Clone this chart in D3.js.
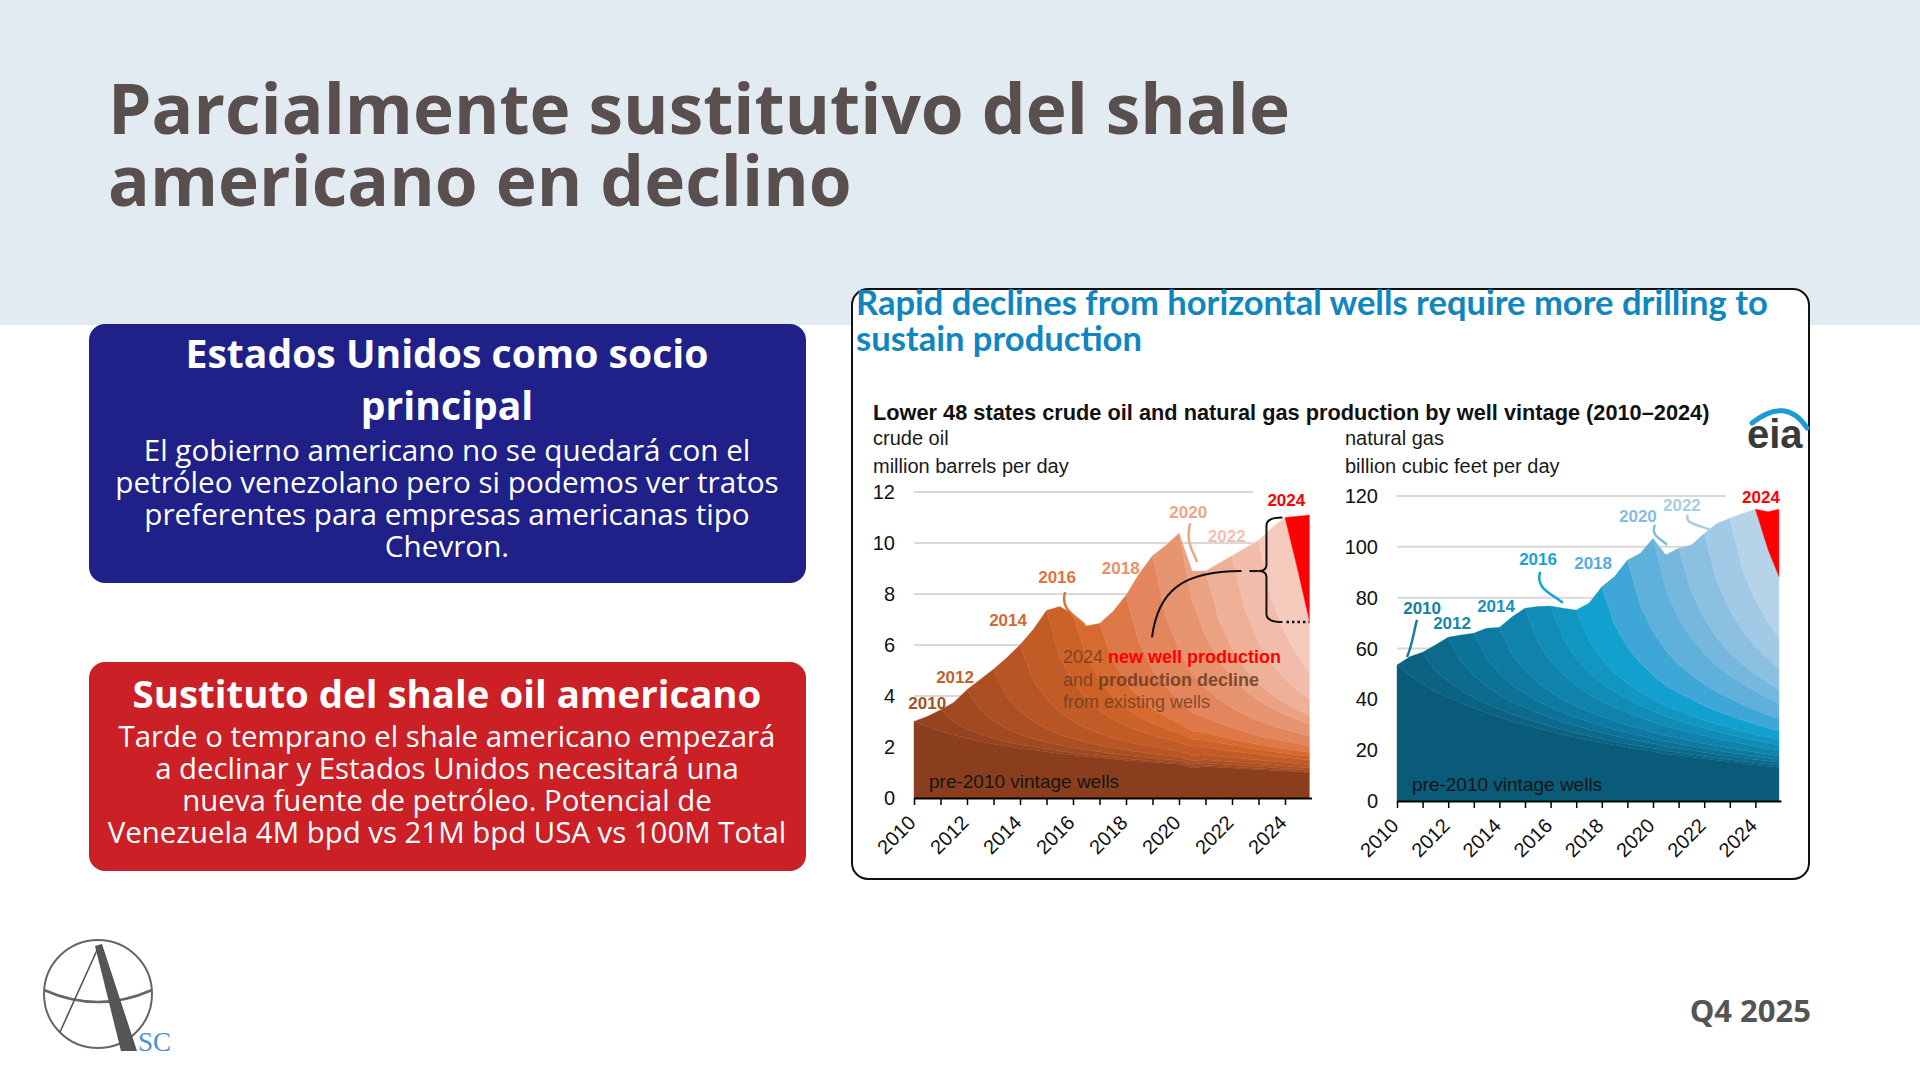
<!DOCTYPE html>
<html>
<head>
<meta charset="utf-8">
<script src="https://cdn.jsdelivr.net/npm/d3@7"></script>
<style>
    body { margin: 0; background: #ffffff; }
    svg { display: block; }
</style>
</head>
<body>
<div id="slide"></div>
<script>
/*
    Lámina: shale americano por antigüedad de pozo (EIA)
 */

// ---- textos ----
var page_title = ['Parcialmente sustitutivo del shale', 'americano en declino'];
var usa_title = ['Estados Unidos como socio', 'principal'];
var usa_text = [
    'El gobierno americano no se quedará con el',
    'petróleo venezolano pero si podemos ver tratos',
    'preferentes para empresas americanas tipo',
    'Chevron.'
];
var shale_title = ['Sustituto del shale oil americano'];
var shale_text = [
    'Tarde o temprano el shale americano empezará',
    'a declinar y Estados Unidos necesitará una',
    'nueva fuente de petróleo. Potencial de',
    'Venezuela 4M bpd vs 21M bpd USA vs 100M Total'
];
var chart_headline = ['Rapid declines from horizontal wells require more drilling to', 'sustain production'];
var chart_subtitle = 'Lower 48 states crude oil and natural gas production by well vintage (2010\u20132024)';

// ---- datos ----
var vintages = ['pre-2010', '2010', '2011', '2012', '2013', '2014', '2015', '2016',
    '2017', '2018', '2019', '2020', '2021', '2022', '2023', '2024'];

var dates = [2010, 2010.5, 2011, 2011.5, 2012, 2012.5, 2013, 2013.5, 2014, 2014.5,
    2015, 2015.5, 2016, 2016.5, 2017, 2017.5, 2018, 2018.5, 2019, 2019.5,
    2020, 2020.5, 2021, 2021.5, 2022, 2022.5, 2023, 2023.5, 2024, 2024.5, 2024.92];

var year_ticks = [2010, 2011, 2012, 2013, 2014, 2015, 2016, 2017, 2018, 2019, 2020, 2021, 2022, 2023, 2024];
var year_labels = [2010, 2012, 2014, 2016, 2018, 2020, 2022, 2024];
var oil_y_ticks = [0, 2, 4, 6, 8, 10, 12];
var gas_y_ticks = [0, 20, 40, 60, 80, 100, 120];

// million barrels per day, each vintage starts in January of its year
var oil_by_vintage = [
    [3.00, 2.80, 2.62, 2.47, 2.34, 2.22, 2.12, 2.03, 1.95, 1.88, 1.81, 1.75, 1.69, 1.63, 1.58, 1.53, 1.48, 1.44, 1.40, 1.36, 1.32, 1.18, 1.24, 1.21, 1.18, 1.15, 1.12, 1.09, 1.06, 1.03, 1.00],
    [0, 0.40, 0.83, 0.51, 0.37, 0.28, 0.22, 0.17, 0.145, 0.125, 0.11, 0.095, 0.085, 0.078, 0.071, 0.066, 0.061, 0.057, 0.054, 0.051, 0.048, 0.046, 0.043, 0.041, 0.04, 0.038, 0.037, 0.035, 0.033, 0.032, 0.03],
    [0, 0.77, 1.54, 0.95, 0.69, 0.52, 0.40, 0.32, 0.27, 0.23, 0.20, 0.18, 0.16, 0.145, 0.13, 0.12, 0.115, 0.105, 0.10, 0.095, 0.09, 0.085, 0.08, 0.077, 0.074, 0.07, 0.068, 0.065, 0.062],
    [0, 1.20, 2.02, 1.25, 0.91, 0.69, 0.53, 0.42, 0.35, 0.30, 0.26, 0.23, 0.21, 0.19, 0.17, 0.16, 0.15, 0.14, 0.13, 0.12, 0.117, 0.11, 0.105, 0.10, 0.097, 0.093, 0.089],
    [0, 1.53, 2.60, 1.61, 1.17, 0.88, 0.68, 0.55, 0.455, 0.39, 0.34, 0.30, 0.27, 0.245, 0.22, 0.21, 0.19, 0.18, 0.17, 0.16, 0.15, 0.143, 0.135, 0.13, 0.125],
    [0, 1.98, 3.46, 2.15, 1.56, 1.18, 0.90, 0.73, 0.61, 0.52, 0.45, 0.40, 0.36, 0.325, 0.30, 0.28, 0.26, 0.24, 0.225, 0.21, 0.20, 0.19, 0.18],
    [0, 1.98, 2.64, 1.64, 1.19, 0.90, 0.69, 0.55, 0.46, 0.40, 0.34, 0.30, 0.27, 0.25, 0.23, 0.21, 0.195, 0.18, 0.17, 0.16, 0.153],
    [0, 1.19, 2.23, 1.38, 1.00, 0.76, 0.58, 0.47, 0.39, 0.33, 0.29, 0.26, 0.23, 0.21, 0.19, 0.18, 0.165, 0.155, 0.145],
    [0, 1.93, 3.43, 2.13, 1.54, 1.17, 0.89, 0.72, 0.60, 0.51, 0.45, 0.39, 0.35, 0.32, 0.295, 0.275, 0.255],
    [0, 2.73, 4.46, 2.77, 2.00, 1.52, 1.16, 0.94, 0.78, 0.67, 0.58, 0.51, 0.46, 0.42, 0.38],
    [0, 2.77, 4.56, 2.83, 2.05, 1.55, 1.19, 0.96, 0.80, 0.68, 0.59, 0.52, 0.47],
    [0, 1.20, 2.54, 1.57, 1.14, 0.86, 0.66, 0.53, 0.44, 0.38, 0.33],
    [0, 2.20, 3.63, 2.25, 1.63, 1.23, 0.94, 0.76, 0.64],
    [0, 2.48, 3.98, 2.47, 1.79, 1.35, 1.04],
    [0, 2.84, 4.56, 3.30, 2.05],
    [0, 2.19, 4.15]
];

// billion cubic feet per day
var gas_by_vintage = [
    [53.5, 49.5, 46.0, 43.2, 40.8, 38.6, 36.6, 34.8, 33.0, 31.4, 30.0, 28.6, 27.3, 26.1, 25.0, 23.9, 22.9, 22.0, 21.1, 20.3, 19.5, 18.5, 18.0, 17.3, 16.6, 16.0, 15.4, 14.8, 14.2, 13.7, 13.2],
    [0, 7.3, 12.5, 8.25, 6.25, 5.0, 4.1, 3.5, 3.1, 2.75, 2.5, 2.25, 2.06, 1.9, 1.75, 1.63, 1.53, 1.44, 1.35, 1.28, 1.21, 1.15, 1.09, 1.04, 0.99, 0.94, 0.9, 0.86, 0.83, 0.79, 0.75],
    [0, 9.95, 17.35, 11.45, 8.7, 6.95, 5.7, 4.85, 4.25, 3.8, 3.45, 3.1, 2.85, 2.65, 2.45, 2.25, 2.1, 2.0, 1.87, 1.77, 1.68, 1.6, 1.5, 1.44, 1.37, 1.3, 1.25, 1.2, 1.15],
    [0, 10.25, 16.6, 10.95, 8.3, 6.65, 5.5, 4.65, 4.05, 3.65, 3.3, 3.0, 2.75, 2.5, 2.3, 2.15, 2.0, 1.9, 1.8, 1.7, 1.6, 1.53, 1.45, 1.38, 1.31, 1.25, 1.2],
    [0, 11.8, 18.2, 12.0, 9.1, 7.3, 6.0, 5.1, 4.45, 4.0, 3.65, 3.3, 3.0, 2.75, 2.55, 2.35, 2.2, 2.1, 1.97, 1.85, 1.77, 1.67, 1.58, 1.5, 1.44],
    [0, 14.85, 24.45, 16.1, 12.2, 9.8, 8.05, 6.85, 6.0, 5.4, 4.9, 4.4, 4.05, 3.7, 3.4, 3.2, 3.0, 2.8, 2.65, 2.5, 2.37, 2.25, 2.13],
    [0, 13.8, 21.64, 14.3, 10.8, 8.65, 7.15, 6.05, 5.3, 4.75, 4.35, 3.9, 3.55, 3.3, 3.05, 2.8, 2.65, 2.5, 2.35, 2.2, 2.1],
    [0, 11.85, 18.9, 12.5, 9.45, 7.55, 6.25, 5.3, 4.65, 4.15, 3.8, 3.4, 3.1, 2.9, 2.65, 2.45, 2.3, 2.17, 2.05],
    [0, 14.6, 28.4, 18.75, 14.2, 11.35, 9.35, 7.95, 6.95, 6.25, 5.7, 5.1, 4.7, 4.3, 4.0, 3.7, 3.45],
    [0, 19.05, 34.3, 22.65, 17.15, 13.7, 11.3, 9.6, 8.4, 7.55, 6.85, 6.2, 5.65, 5.2, 4.8],
    [0, 20.47, 36.6, 24.15, 18.3, 14.65, 12.1, 10.25, 8.95, 8.05, 7.3, 6.6, 6.05],
    [0, 13.58, 27.33, 18.05, 13.65, 10.95, 9.0, 7.65, 6.7, 6.0, 5.45],
    [0, 18.5, 33.55, 22.15, 16.8, 13.4, 11.05, 9.4, 8.2],
    [0, 22.94, 36.06, 23.8, 18.05, 14.4, 11.9],
    [0, 22.29, 35.86, 28.44, 24.43],
    [0, 15.0, 26.5]
];

// ---- estilos ----
var oil_colors = ['#8b3e1e', '#96441f', '#a14a21', '#ac5023', '#b75624', '#c25c26', '#cd6229', '#d76a2f',
    '#de7848', '#e3865d', '#e79470', '#eba283', '#eeb097', '#f1bdaa', '#f4cabd', '#ff0000'];
var gas_colors = ['#0a5a7a', '#0b6283', '#0c6a8d', '#0d7297', '#0e7aa1', '#0f83ab', '#108cb6', '#1196c2',
    '#12a0cf', '#3ea7d8', '#5fb0db', '#75b7dd', '#8bc0e1', '#a0cae5', '#b5d4ea', '#ff0000'];

var slide_font = '"Open Sans", sans-serif';
var chart_font = '"Liberation Sans", Arial, sans-serif';

var oil_labels = [
    {text: '2010', year: 2010.5, value: 3.5, color: '#a0522a'},
    {text: '2012', year: 2011.55, value: 4.5, color: '#c0622e'},
    {text: '2014', year: 2013.55, value: 6.75, color: '#d06a34'},
    {text: '2016', year: 2015.4, value: 8.45, color: '#dd7438'},
    {text: '2018', year: 2017.8, value: 8.8, color: '#e8906c'},
    {text: '2020', year: 2020.35, value: 11.0, color: '#efa48c'},
    {text: '2022', year: 2021.8, value: 10.05, color: '#f3bfae'},
    {text: '2024', year: 2024.05, value: 11.45, color: '#ff0000'}
];
var oil_leaders = [
    {from: [2015.70, 8.08], to: [2016.45, 6.78], color: '#dd7438'},
    {from: [2020.42, 10.78], to: [2020.68, 9.25], color: '#efa48c'}
];
var gas_labels = [
    {text: '2010', year: 2010.98, value: 73.6, color: '#1a7d9f'},
    {text: '2012', year: 2012.15, value: 67.7, color: '#1b85ac'},
    {text: '2014', year: 2013.87, value: 74.4, color: '#1a90bf'},
    {text: '2016', year: 2015.51, value: 92.9, color: '#17a1d8'},
    {text: '2018', year: 2017.66, value: 91.3, color: '#55acdc'},
    {text: '2020', year: 2019.41, value: 109.8, color: '#85bce2'},
    {text: '2022', year: 2021.13, value: 114.2, color: '#a9cbe6'},
    {text: '2024', year: 2024.22, value: 117.3, color: '#ff0000'}
];
var gas_leaders = [
    {from: [2010.78, 71.3], to: [2010.39, 56.7], color: '#1a7d9f'},
    {from: [2015.59, 90.2], to: [2016.48, 78.0], color: '#17a1d8'},
    {from: [2020.08, 108.7], to: [2020.55, 100.8], color: '#85bce2'},
    {from: [2021.37, 112.6], to: [2022.23, 106.7], color: '#a9cbe6'}
];

var svg = d3.select('#slide')
    .append('svg')
    .attr('width', 1920)
    .attr('height', 1080);

// scale font size so that line `ref` is `width` px wide
function fit_lines(sel, ref, width) {
    var node = sel.nodes()[ref];
    var w = node.getComputedTextLength();
    var fs = parseFloat(d3.select(node).style('font-size'));
    sel.style('font-size', (fs * width / w) + 'px');
}

// ---- cabecera ----
svg.append('rect')
    .attr('x', 0).attr('y', 0)
    .attr('width', 1920).attr('height', 325)
    .style('fill', '#e2eaf2');

var title_text = svg.append('g').selectAll('text')
    .data(page_title)
    .enter()
    .append('text')
    .attr('x', 108)
    .attr('y', function(d, i) { return 134 + i * 72; })
    .text(function(d) { return d; })
    .style('font-family', slide_font)
    .style('font-weight', 700)
    .style('font-size', '63px')
    .style('fill', '#594f4f');
fit_lines(title_text, 0, 1182);

// ---- cajas ----
function draw_box(opt) {
    var g = svg.append('g');
    g.append('rect')
        .attr('x', 89).attr('y', opt.y)
        .attr('width', 717).attr('height', opt.height)
        .attr('rx', 16)
        .style('fill', opt.color);

    var t = g.selectAll('.box-title')
        .data(opt.title)
        .enter()
        .append('text')
        .classed('box-title', true)
        .attr('x', 447)
        .attr('y', function(d, i) { return opt.title_y + i * 52; })
        .attr('text-anchor', 'middle')
        .text(function(d) { return d; })
        .style('font-family', slide_font)
        .style('font-weight', 700)
        .style('font-size', '34px')
        .style('fill', '#ffffff');
    fit_lines(t, 0, opt.title_width);

    var b = g.selectAll('.box-body')
        .data(opt.body)
        .enter()
        .append('text')
        .classed('box-body', true)
        .attr('x', 447)
        .attr('y', function(d, i) { return opt.body_y + i * 32; })
        .attr('text-anchor', 'middle')
        .text(function(d) { return d; })
        .style('font-family', slide_font)
        .style('font-weight', 400)
        .style('font-size', '26px')
        .style('fill', '#ffffff');
    fit_lines(b, opt.body_ref, opt.body_width);
}

draw_box({y: 324, height: 259, color: '#1f2188', title: usa_title, title_y: 368, title_width: 523,
    body: usa_text, body_y: 461, body_ref: 1, body_width: 664});
draw_box({y: 662, height: 209, color: '#cc2027', title: shale_title, title_y: 708, title_width: 629,
    body: shale_text, body_y: 747, body_ref: 3, body_width: 679});

// ---- logo ----
var logo = svg.append('g');
logo.append('circle')
    .attr('cx', 98).attr('cy', 994).attr('r', 54)
    .style('fill', 'none').style('stroke', '#666').style('stroke-width', 2);
logo.append('path')
    .attr('d', 'M44,990 Q98,1014 152,990')
    .style('fill', 'none').style('stroke', '#666').style('stroke-width', 2.5);
logo.append('path')
    .attr('d', 'M98,948 L60,1032')
    .style('fill', 'none').style('stroke', '#555').style('stroke-width', 1.6);
logo.append('path')
    .attr('d', 'M95,946 L102,944 L137,1051 L121,1051 Z')
    .style('fill', '#555');
logo.append('text')
    .attr('x', 138).attr('y', 1051)
    .text('SC')
    .style('font-family', '"Liberation Serif", serif')
    .style('font-size', '27px')
    .style('fill', '#4a90d0');

svg.append('text')
    .attr('x', 1811).attr('y', 1022)
    .attr('text-anchor', 'end')
    .text('Q4 2025')
    .style('font-family', slide_font)
    .style('font-weight', 700)
    .style('font-size', '31px')
    .style('fill', '#555555');

// ---- panel del grafico ----
svg.append('rect')
    .attr('x', 852).attr('y', 289)
    .attr('width', 957).attr('height', 590)
    .attr('rx', 16)
    .style('fill', '#ffffff')
    .style('stroke', '#111')
    .style('stroke-width', 2);

var headline = svg.append('g').selectAll('text')
    .data(chart_headline)
    .enter()
    .append('text')
    .attr('x', 856)
    .attr('y', function(d, i) { return 315 + i * 36; })
    .text(function(d) { return d; })
    .style('font-family', 'Lato, sans-serif')
    .style('font-weight', 700)
    .style('font-size', '30px')
    .style('fill', '#0f86bf');
fit_lines(headline, 0, 912);

var subtitle = svg.append('text')
    .attr('x', 873).attr('y', 420)
    .text(chart_subtitle)
    .style('font-family', chart_font)
    .style('font-weight', 700)
    .style('font-size', '20px')
    .style('fill', '#111');
fit_lines(subtitle, 0, 837);

// eia logo
svg.append('path')
    .attr('d', 'M1752,423 Q1786,396 1807,428')
    .style('fill', 'none').style('stroke', '#1a9ad6').style('stroke-width', 5)
    .style('stroke-linecap', 'round');
svg.append('text')
    .attr('x', 1747).attr('y', 448)
    .text('eia')
    .style('font-family', chart_font)
    .style('font-weight', 700)
    .style('font-size', '40px')
    .style('fill', '#3a3a3a');

function build_table(values) {
    return dates.map(function(d, i) {
        var row = {date: d};
        vintages.forEach(function(v, j) {
            var start = j === 0 ? 0 : 2 * (j - 1);
            row[v] = i < start ? 0 : values[j][i - start];
        });
        return row;
    });
}

function draw_chart(opt) {
    var x = d3.scaleLinear().domain([2010, 2025]).range([opt.left, opt.right]);
    var y = d3.scaleLinear().domain([0, opt.y_max]).range([opt.bottom, opt.top]);
    var g = svg.append('g');

    // units
    g.selectAll('.unit')
        .data(opt.unit)
        .enter()
        .append('text')
        .attr('x', opt.unit_x)
        .attr('y', function(d, i) { return 445 + i * 28; })
        .text(function(d) { return d; })
        .style('font-family', chart_font)
        .style('font-size', '20px')
        .style('fill', '#1a1a1a');

    // grid
    g.selectAll('.grid')
        .data(opt.y_ticks.filter(function(d) { return d > 0; }))
        .enter()
        .append('line')
        .attr('x1', x(2010)).attr('x2', x(opt.grid_end))
        .attr('y1', function(d) { return y(d); })
        .attr('y2', function(d) { return y(d); })
        .style('stroke', '#d9d9d9')
        .style('stroke-width', 2);

    g.selectAll('.y-label')
        .data(opt.y_ticks)
        .enter()
        .append('text')
        .attr('x', x(2010) - 19)
        .attr('y', function(d) { return y(d); })
        .attr('text-anchor', 'end')
        .attr('dominant-baseline', 'central')
        .text(function(d) { return d; })
        .style('font-family', chart_font)
        .style('font-size', '20px')
        .style('fill', '#111');

    // stacked vintages, each drawn from its own first month
    var series = d3.stack().keys(vintages)(build_table(opt.values));

    g.selectAll('.layer')
        .data(series)
        .enter()
        .append('path')
        .attr('d', function(s, j) {
            var start = j === 0 ? 0 : 2 * (j - 1);
            return d3.area()
                .defined(function(d, i) { return i >= start; })
                .x(function(d) { return x(d.data.date); })
                .y0(function(d) { return y(d[0]); })
                .y1(function(d) { return y(d[1]); })(s);
        })
        .style('fill', function(d, i) { return opt.colors[i]; })
        .style('stroke', function(d, i) { return opt.colors[i]; })
        .style('stroke-width', 0.4);

    // x axis
    var x_axis = d3.axisBottom(x)
        .tickValues(year_ticks)
        .tickFormat('')
        .tickSizeInner(7)
        .tickSizeOuter(0);
    var ax = g.append('g')
        .attr('transform', 'translate(0,' + y(0) + ')')
        .call(x_axis);
    ax.select('.domain').style('stroke', '#000').style('stroke-width', 2);
    ax.selectAll('.tick line').style('stroke', '#000').style('stroke-width', 1.5);

    g.selectAll('.x-label')
        .data(year_labels)
        .enter()
        .append('text')
        .attr('transform', function(d) { return 'translate(' + (x(d) - 2) + ',' + (y(0) + 21) + ') rotate(-45)'; })
        .attr('text-anchor', 'end')
        .attr('dominant-baseline', 'central')
        .text(function(d) { return d; })
        .style('font-family', chart_font)
        .style('font-size', '20px')
        .style('fill', '#111');

    // vintage labels
    g.selectAll('.leader')
        .data(opt.leaders)
        .enter()
        .append('path')
        .attr('d', function(d) {
            var x0 = x(d.from[0]), y0 = y(d.from[1]), x1 = x(d.to[0]), y1 = y(d.to[1]);
            return 'M' + x0 + ',' + y0 +
                ' C' + (x0 - 5) + ',' + (y0 + (y1 - y0) * 0.55) +
                ' ' + (x1 - (x1 - x0) * 0.5) + ',' + (y1 - (y1 - y0) * 0.3) +
                ' ' + x1 + ',' + y1;
        })
        .style('fill', 'none')
        .style('stroke', function(d) { return d.color; })
        .style('stroke-width', 2.5);

    g.selectAll('.vintage-label')
        .data(opt.labels)
        .enter()
        .append('text')
        .attr('x', function(d) { return x(d.year); })
        .attr('y', function(d) { return y(d.value); })
        .attr('text-anchor', 'middle')
        .text(function(d) { return d.text; })
        .style('font-family', chart_font)
        .style('font-weight', 700)
        .style('font-size', '17px')
        .style('fill', function(d) { return d.color; });

    g.append('text')
        .attr('x', x(2010) + 15)
        .attr('y', y(0) - 10)
        .text('pre-2010 vintage wells')
        .style('font-family', chart_font)
        .style('font-size', '19px')
        .style('fill', '#151515');

    return {x: x, y: y, g: g};
}

var oil_chart = draw_chart({
    values: oil_by_vintage, colors: oil_colors, y_ticks: oil_y_ticks, y_max: 12,
    left: 914, right: 1311.5, top: 492, bottom: 798, grid_end: 2022.8,
    labels: oil_labels, leaders: oil_leaders,
    unit: ['crude oil', 'million barrels per day'], unit_x: 873
});

var gas_chart = draw_chart({
    values: gas_by_vintage, colors: gas_colors, y_ticks: gas_y_ticks, y_max: 120,
    left: 1397, right: 1781, top: 496, bottom: 801, grid_end: 2022.85,
    labels: gas_labels, leaders: gas_leaders,
    unit: ['natural gas', 'billion cubic feet per day'], unit_x: 1345
});

// ---- 2024 annotation on the oil panel ----
var ox = oil_chart.x, oy = oil_chart.y, og = oil_chart.g;
var bx = ox(2023.3), b_top = oy(11.0), b_mid = oy(8.9), b_bot = oy(6.9);

og.append('path')
    .attr('d', 'M' + (bx + 16) + ',' + b_top + ' Q' + bx + ',' + b_top + ' ' + bx + ',' + (b_top + 8) +
        ' L' + bx + ',' + (b_mid - 6) + ' Q' + bx + ',' + b_mid + ' ' + (bx - 8) + ',' + b_mid +
        ' Q' + bx + ',' + b_mid + ' ' + bx + ',' + (b_mid + 6) +
        ' L' + bx + ',' + (b_bot - 8) + ' Q' + bx + ',' + b_bot + ' ' + (bx + 16) + ',' + b_bot)
    .style('fill', 'none').style('stroke', '#111').style('stroke-width', 2);

og.append('line')
    .attr('x1', bx + 20).attr('x2', ox(2024.92))
    .attr('y1', b_bot).attr('y2', b_bot)
    .style('stroke', '#111').style('stroke-width', 2.5)
    .style('stroke-dasharray', '2.5,3');

og.append('line')
    .attr('x1', bx - 17).attr('x2', bx - 8)
    .attr('y1', b_mid).attr('y2', b_mid)
    .style('stroke', '#111').style('stroke-width', 2);

var cx0 = ox(2018.98), cy0 = oy(6.3), cx1 = bx - 25;
og.append('path')
    .attr('d', 'M' + cx0 + ',' + cy0 + ' C' + (cx0 + 6) + ',' + (b_mid + 20) + ' ' + (cx0 + 30) + ',' + b_mid + ' ' + cx1 + ',' + b_mid)
    .style('fill', 'none').style('stroke', '#111').style('stroke-width', 2);

var note_color = '#6b3a22';
var note = og.append('g')
    .style('font-family', chart_font)
    .style('font-size', '18px');

var n1 = note.append('text').attr('x', ox(2015.62)).attr('y', oy(5.29));
n1.append('tspan').text('2024 ').style('fill', note_color).style('fill-opacity', 0.8);
n1.append('tspan').text('new well production').style('fill', '#ff0000').style('font-weight', 700);

var n2 = note.append('text').attr('x', ox(2015.62)).attr('y', oy(4.39));
n2.append('tspan').text('and ').style('fill', note_color).style('fill-opacity', 0.8);
n2.append('tspan').text('production decline').style('fill', note_color).style('font-weight', 700).style('fill-opacity', 0.85);

note.append('text').attr('x', ox(2015.62)).attr('y', oy(3.53))
    .text('from existing wells')
    .style('fill', note_color).style('fill-opacity', 0.8);
</script>
</body>
</html>
